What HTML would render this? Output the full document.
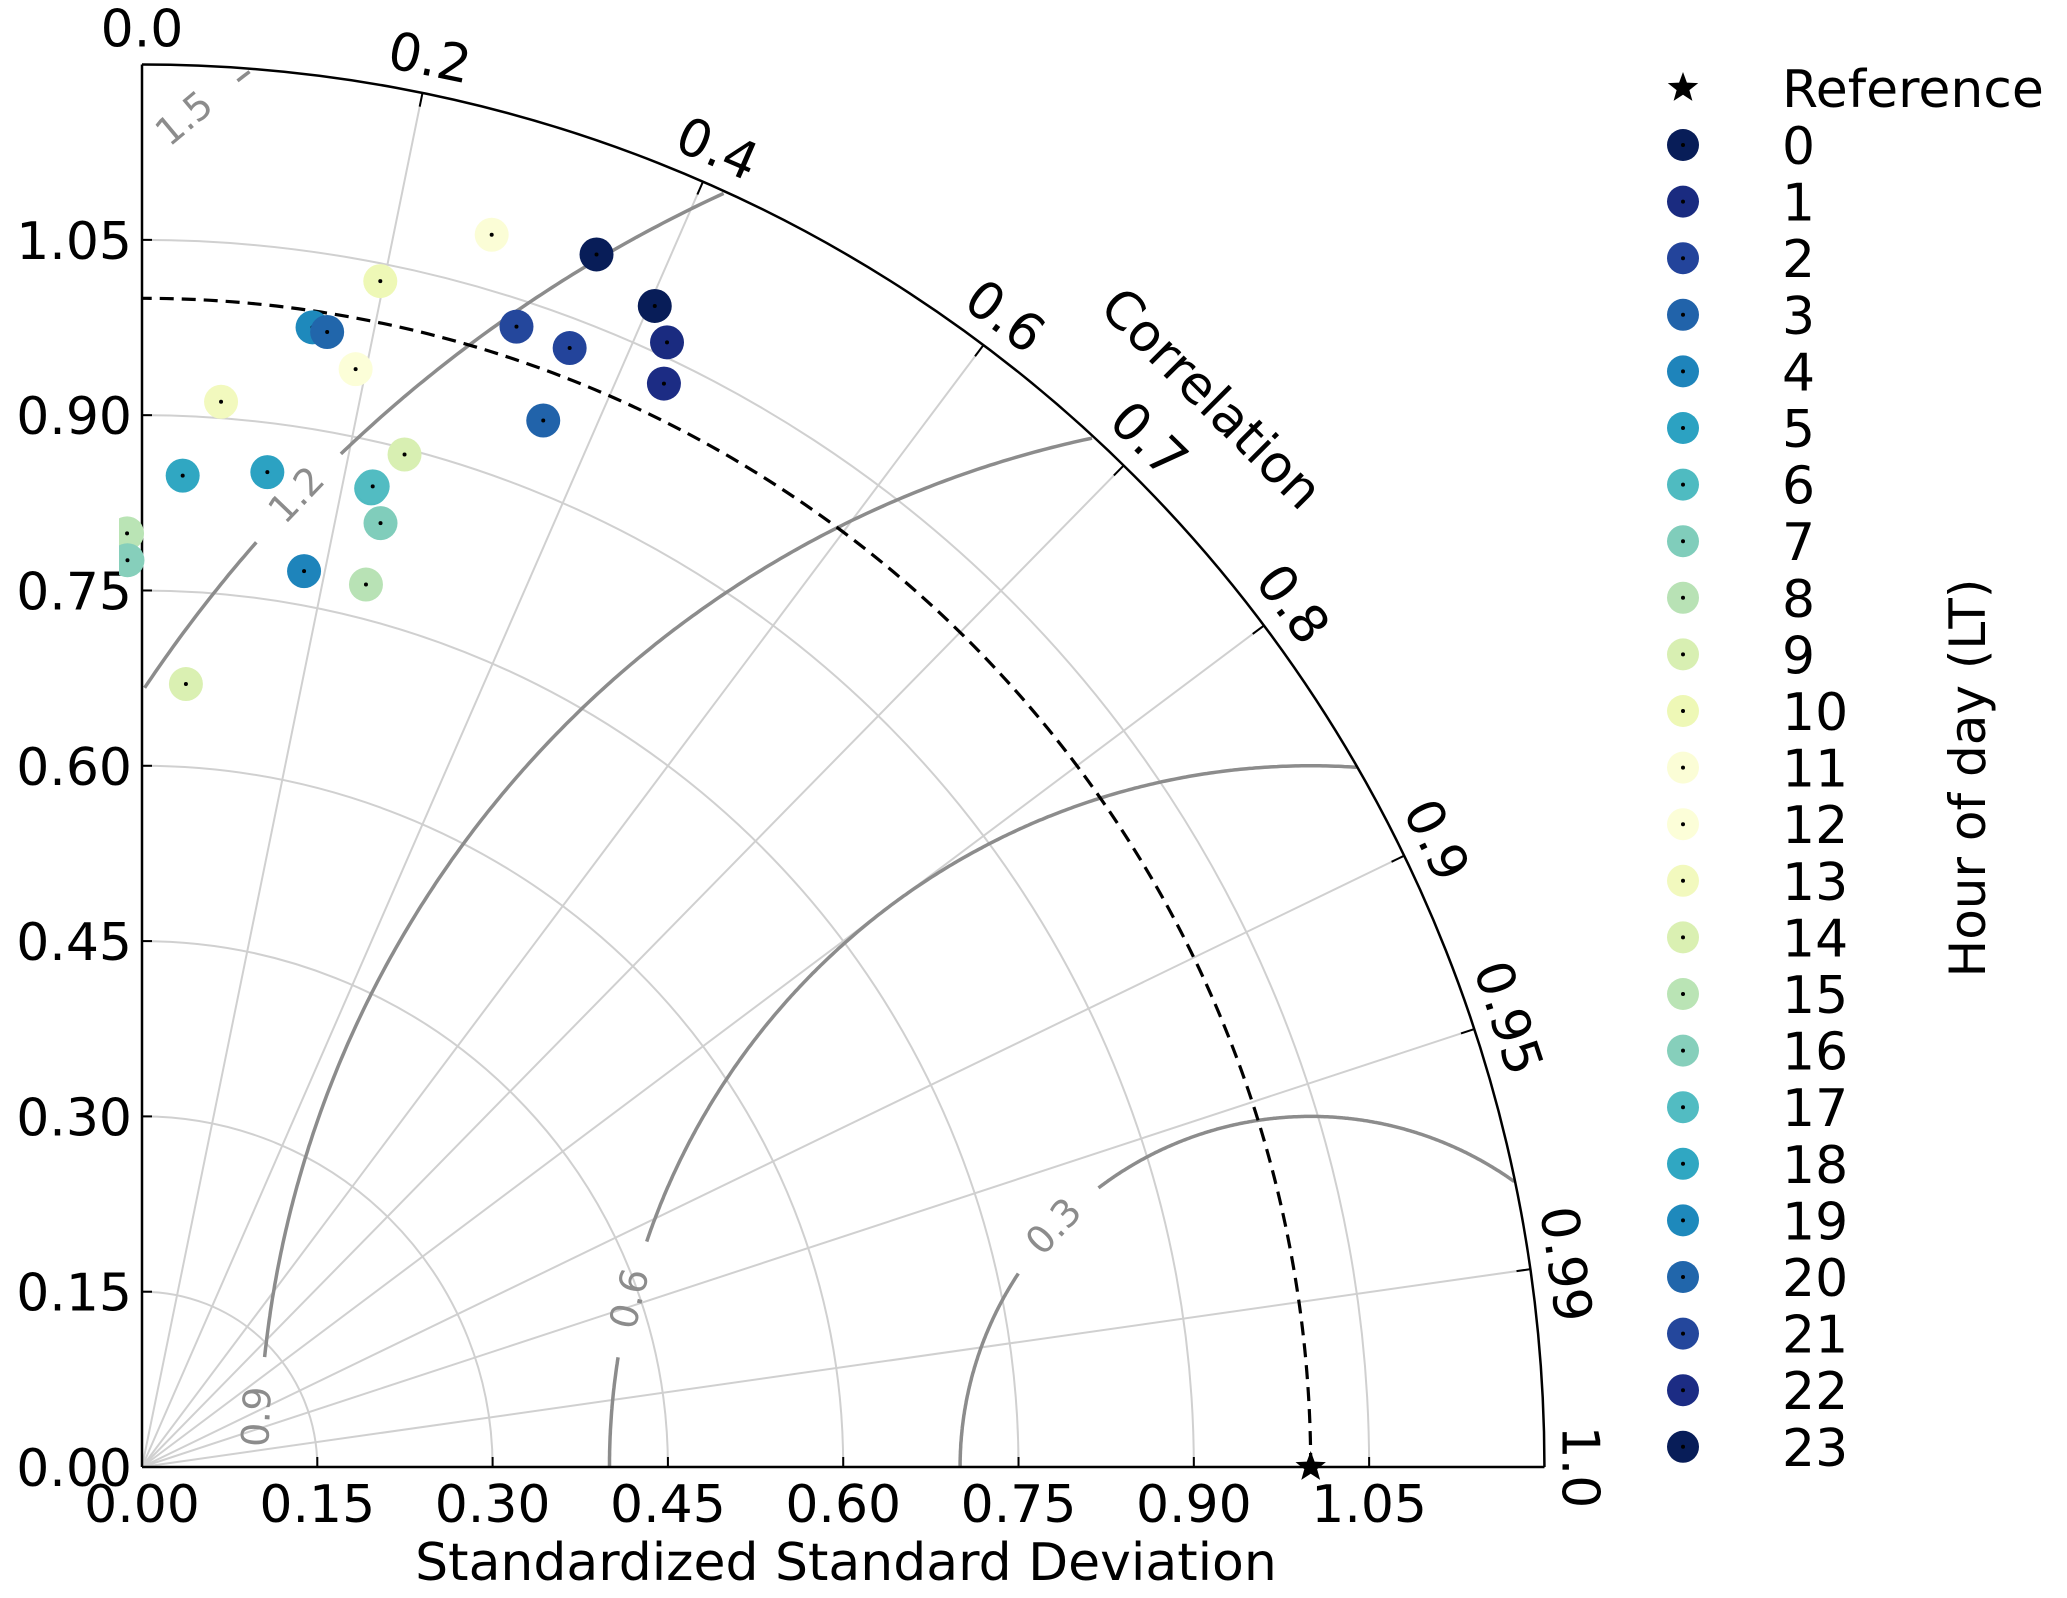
<!DOCTYPE html>
<html><head><meta charset="utf-8"><style>
html,body{margin:0;padding:0;background:#fff;}
svg{display:block;font-family:"DejaVu Sans","Liberation Sans",sans-serif;}
</style></head><body>
<svg id="chart" width="2067" height="1598" viewBox="0 0 2067 1598" xmlns="http://www.w3.org/2000/svg">
<defs><clipPath id="qclip"><rect x="119" y="0" width="1500" height="1468"/></clipPath></defs>
<g id="grid"></g>
<g id="contours"></g>
<g id="axes"></g>
<g id="points" clip-path="url(#qclip)"></g>
<g id="legend"></g>
<text x="846" y="1580" font-size="52" text-anchor="middle">Standardized Standard Deviation</text>
<text x="0" y="0" font-size="50" text-anchor="middle" transform="translate(1985,778) rotate(-90)">Hour of day (LT)</text>
<text x="0" y="0" font-size="52" text-anchor="middle" transform="translate(1199,411) rotate(45)">Correlation</text>
</svg>
<script>
const hours = [0,1,2,3,4,5,6,7,8,9,10,11,12,13,14,15,16,17,18,19,20,21,22,23];
const stdValues = [1.086,1.062,1.025,0.959,0.779,0.858,0.860,0.833,0.779,0.895,1.035,1.096,0.957,0.914,0.671,0.799,0.776,0.862,0.849,0.986,0.984,1.027,1.029,1.108];
const corrValues = [0.404,0.423,0.357,0.358,0.178,0.125,0.228,0.245,0.246,0.251,0.197,0.273,0.191,0.074,0.056,-0.016,-0.016,0.229,0.041,0.148,0.161,0.312,0.434,0.351];
const hourColors = ["#081d58","#1a2b80","#23449b","#2163aa","#1e84bb","#2ca2c2","#4fbbc1","#80cdbb","#b8e2b5","#d8efb2","#eef8b6","#fbfdd6","#fcfed8","#f2f9be","#daf0b2","#bae4b5","#86cfbb","#52bcc2","#30a7c2","#1e89bc","#2166ab","#24479c","#1c2c84","#081d58"];
const stdTicks = [0,0.15,0.30,0.45,0.60,0.75,0.90,1.05];
const stdTickLabels = ["0.00","0.15","0.30","0.45","0.60","0.75","0.90","1.05"];
const corrTicks = [0,0.2,0.4,0.6,0.7,0.8,0.9,0.95,0.99,1.0];
const corrTickLabels = ["0.0","0.2","0.4","0.6","0.7","0.8","0.9","0.95","0.99","1.0"];
const corrGrid = [0.2,0.4,0.6,0.7,0.8,0.9,0.95,0.99];
const rmsLevels = [0.3,0.6,0.9,1.2,1.5];
const rmsLabelX = [0.780,0.417,0.098,0.132,0.036];
const rmsLabelY = [0.206,0.144,0.043,0.832,1.154];
const refStd = 1.0;
const maxStd = 1.2;

const NS="http://www.w3.org/2000/svg";
const OX=142, OY=1467, S=1168.7;
function px(x){return OX+x*S;}
function py(y){return OY-y*S;}
function mk(tag,attrs,parent){const e=document.createElementNS(NS,tag);for(const k in attrs)e.setAttribute(k,attrs[k]);parent.appendChild(e);return e;}
const grid=document.getElementById('grid'),axes=document.getElementById('axes'),cont=document.getElementById('contours'),pts=document.getElementById('points'),leg=document.getElementById('legend');
function arcPath(r){return `M${px(r)},${py(0)} A${r*S},${r*S} 0 0 0 ${px(0)},${py(r)}`;}
stdTicks.slice(1).forEach(r=>{
  const a=mk('path',{d:arcPath(r),fill:'none',stroke:'#d0d0d0','stroke-width':2},grid);
  
  
});
corrGrid.forEach(c=>{
  const t=Math.acos(c);
  const l=mk('line',{x1:px(0),y1:py(0),x2:px(maxStd*Math.cos(t)),y2:py(maxStd*Math.sin(t)),stroke:'#d0d0d0','stroke-width':2},grid);
  
  
});
rmsLevels.forEach((lv,i)=>{
  const lx=rmsLabelX[i], ly=rmsLabelY[i];
  let d='', pen=false;
  for(let k=0;k<=720;k++){
    const a=Math.PI*k/720;
    const x=refStd+lv*Math.cos(a), y=lv*Math.sin(a);
    const ok = x>=0 && y>=0 && Math.hypot(x,y)<=maxStd && Math.hypot(x-lx,y-ly)>0.05;
    if(ok){d+=(pen?'L':'M')+px(x).toFixed(1)+','+py(y).toFixed(1)+' ';pen=true;} else pen=false;
  }
  const p=mk('path',{d:d,fill:'none',stroke:'#8c8c8c','stroke-width':3.5},cont);
  
  
  const ang=Math.atan2(ly,lx-refStd);
  let deg = -(ang*180/Math.PI)+90;
  if(deg>90)deg-=180; if(deg<-90)deg+=180;
  const t=mk('text',{x:0,y:0,'font-size':38,fill:'#8c8c8c','text-anchor':'middle','dominant-baseline':'central',transform:`translate(${px(lx)},${py(ly)}) rotate(${deg})`},cont);
  t.textContent=lv.toFixed(1);
  
  
});
const ds=mk('path',{d:arcPath(refStd),fill:'none',stroke:'#000','stroke-width':3.2,'stroke-dasharray':'14 8'},axes);


const oa=mk('path',{d:arcPath(maxStd),fill:'none',stroke:'#000','stroke-width':2.5},axes);


const xa=mk('line',{x1:px(0),y1:py(0),x2:px(maxStd),y2:py(0),stroke:'#000','stroke-width':2.5},axes);


const ya=mk('line',{x1:px(0),y1:py(0),x2:px(0),y2:py(maxStd),stroke:'#000','stroke-width':2.5},axes);


stdTicks.forEach((v,i)=>{
  const tx=mk('line',{x1:px(v),y1:py(0),x2:px(v),y2:py(0)-10,stroke:'#000','stroke-width':2},axes);
  
  
  const lx=mk('text',{x:px(v),y:py(0)+55,'font-size':52,'text-anchor':'middle'},axes);
  lx.textContent=stdTickLabels[i];
  
  
  const ty=mk('line',{x1:px(0),y1:py(v),x2:px(0)+10,y2:py(v),stroke:'#000','stroke-width':2},axes);
  
  
  const ly=mk('text',{x:px(0)-10,y:py(v)+19,'font-size':52,'text-anchor':'end'},axes);
  ly.textContent=stdTickLabels[i];
  
  
});
corrTicks.forEach((c,i)=>{
  const t=Math.acos(c);
  const tk=mk('line',{x1:px(maxStd*Math.cos(t)),y1:py(maxStd*Math.sin(t)),x2:px((maxStd-0.012)*Math.cos(t)),y2:py((maxStd-0.012)*Math.sin(t)),stroke:'#000','stroke-width':2},axes);
  
  
  const deg=90-t*180/Math.PI;
  const r=maxStd+0.012;
  const lb=mk('text',{x:0,y:-4,'font-size':52,'text-anchor':'middle',transform:`translate(${px(r*Math.cos(t))},${py(r*Math.sin(t))}) rotate(${deg})`},axes);
  lb.textContent=corrTickLabels[i];
  
  
});
hours.forEach((h,i)=>{
  const s=stdValues[i], c=corrValues[i], t=Math.acos(c);
  const x=px(s*Math.cos(t)), y=py(s*Math.sin(t));
  const ci=mk('circle',{cx:x,cy:y,r:17,fill:hourColors[i]},pts);
  
  
  const dt=mk('circle',{cx:x,cy:y,r:2,fill:'#000'},pts);
  
  
});
function star(cx,cy,r,parent){let d='';for(let k=0;k<10;k++){const rr=k%2?r*0.42:r;const a=-Math.PI/2+k*Math.PI/5;d+=(k?'L':'M')+(cx+rr*Math.cos(a)).toFixed(1)+','+(cy+rr*Math.sin(a)).toFixed(1);}return mk('path',{d:d+'Z',fill:'#000'},parent);}
const rs=star(px(refStd),py(0),16,axes);


const ls=star(1683,88,16,leg);


const lt=mk('text',{x:1782,y:107,'font-size':52},leg);
lt.textContent='Reference';


hours.forEach((h,i)=>{
  const y=145+i*56.6;
  const ci=mk('circle',{cx:1683,cy:y,r:16,fill:hourColors[i]},leg);
  
  
  const dt=mk('circle',{cx:1683,cy:y,r:2,fill:'#000'},leg);
  
  
  const tx=mk('text',{x:1782,y:y+19,'font-size':52},leg);
  tx.textContent=String(h);
  
  
});
</script>
</body></html>
